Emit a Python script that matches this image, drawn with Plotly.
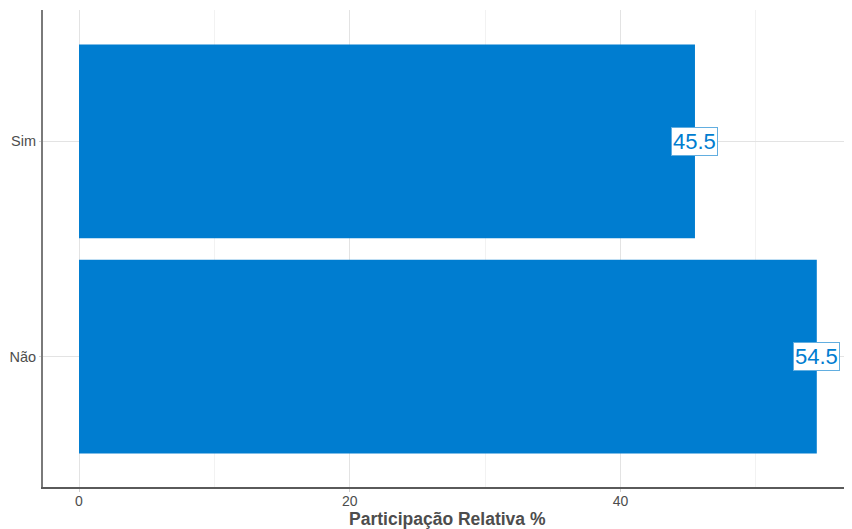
import plotly.graph_objects as go

categories = ["Não", "Sim"]
values = [54.5, 45.5]
labels = ["54.5", "45.5"]
x_ticks = [0, 20, 40]
x_title = "Participação Relativa %"

BAR = "#007DD0"
FONT = "Liberation Sans, Arial"
fig = go.Figure()
fig.add_trace(go.Bar(
    x=values, y=categories, orientation="h",
    marker=dict(color=BAR, line=dict(width=0)),
    width=0.9, hoverinfo="skip",
))
for v, c, t in zip(values, categories, labels):
    fig.add_annotation(
        x=v, y=c, text=t, showarrow=False,
        font=dict(family=FONT, size=22, color=BAR),
        bgcolor="white", bordercolor="#62AEE0", borderwidth=1, borderpad=1,
        xanchor="center", yanchor="middle",
    )
fig.add_annotation(
    x=0.5, xref="paper", y=0, yref="paper", yshift=-32,
    text="<b>" + x_title + "</b>", showarrow=False,
    font=dict(family=FONT, size=17.5, color="#4D4D4D"),
    xanchor="center", yanchor="middle",
)

# page body has an 8px default margin: size/offset the figure to compensate
fig.update_layout(
    width=844, height=521,
    margin=dict(l=35, r=0, t=2, b=42, autoexpand=False),
    plot_bgcolor="white", paper_bgcolor="white",
    showlegend=False,
    bargap=0.1,
    font=dict(family=FONT, color="#4D4D4D"),
)
fig.update_xaxes(
    range=[-2.66, 57.1], automargin=False,
    tickvals=x_ticks, ticktext=[str(v) for v in x_ticks],
    showgrid=True, gridcolor="#E3E3E3", gridwidth=1,
    minor=dict(dtick=10, tick0=0, showgrid=True, gridcolor="#F2F2F2", gridwidth=1),
    zeroline=False,
    showline=True, linecolor="#5A5A5A", linewidth=2,
    ticks="outside", ticklen=3, tickcolor="#D0D0D0", tickwidth=1,
    ticklabelstandoff=-3,
    tickfont=dict(size=14, color="#4D4D4D"),
)
fig.update_yaxes(
    range=[-0.605, 1.61], automargin=False,
    categoryorder="array", categoryarray=categories,
    showgrid=True, gridcolor="#E3E3E3", gridwidth=1,
    zeroline=False,
    showline=True, linecolor="#7A7A7A", linewidth=2,
    ticks="outside", ticklen=2, tickcolor="#D0D0D0", tickwidth=1,
    tickfont=dict(size=14.5, color="#4D4D4D"),
)
fig.write_html("out.html")
